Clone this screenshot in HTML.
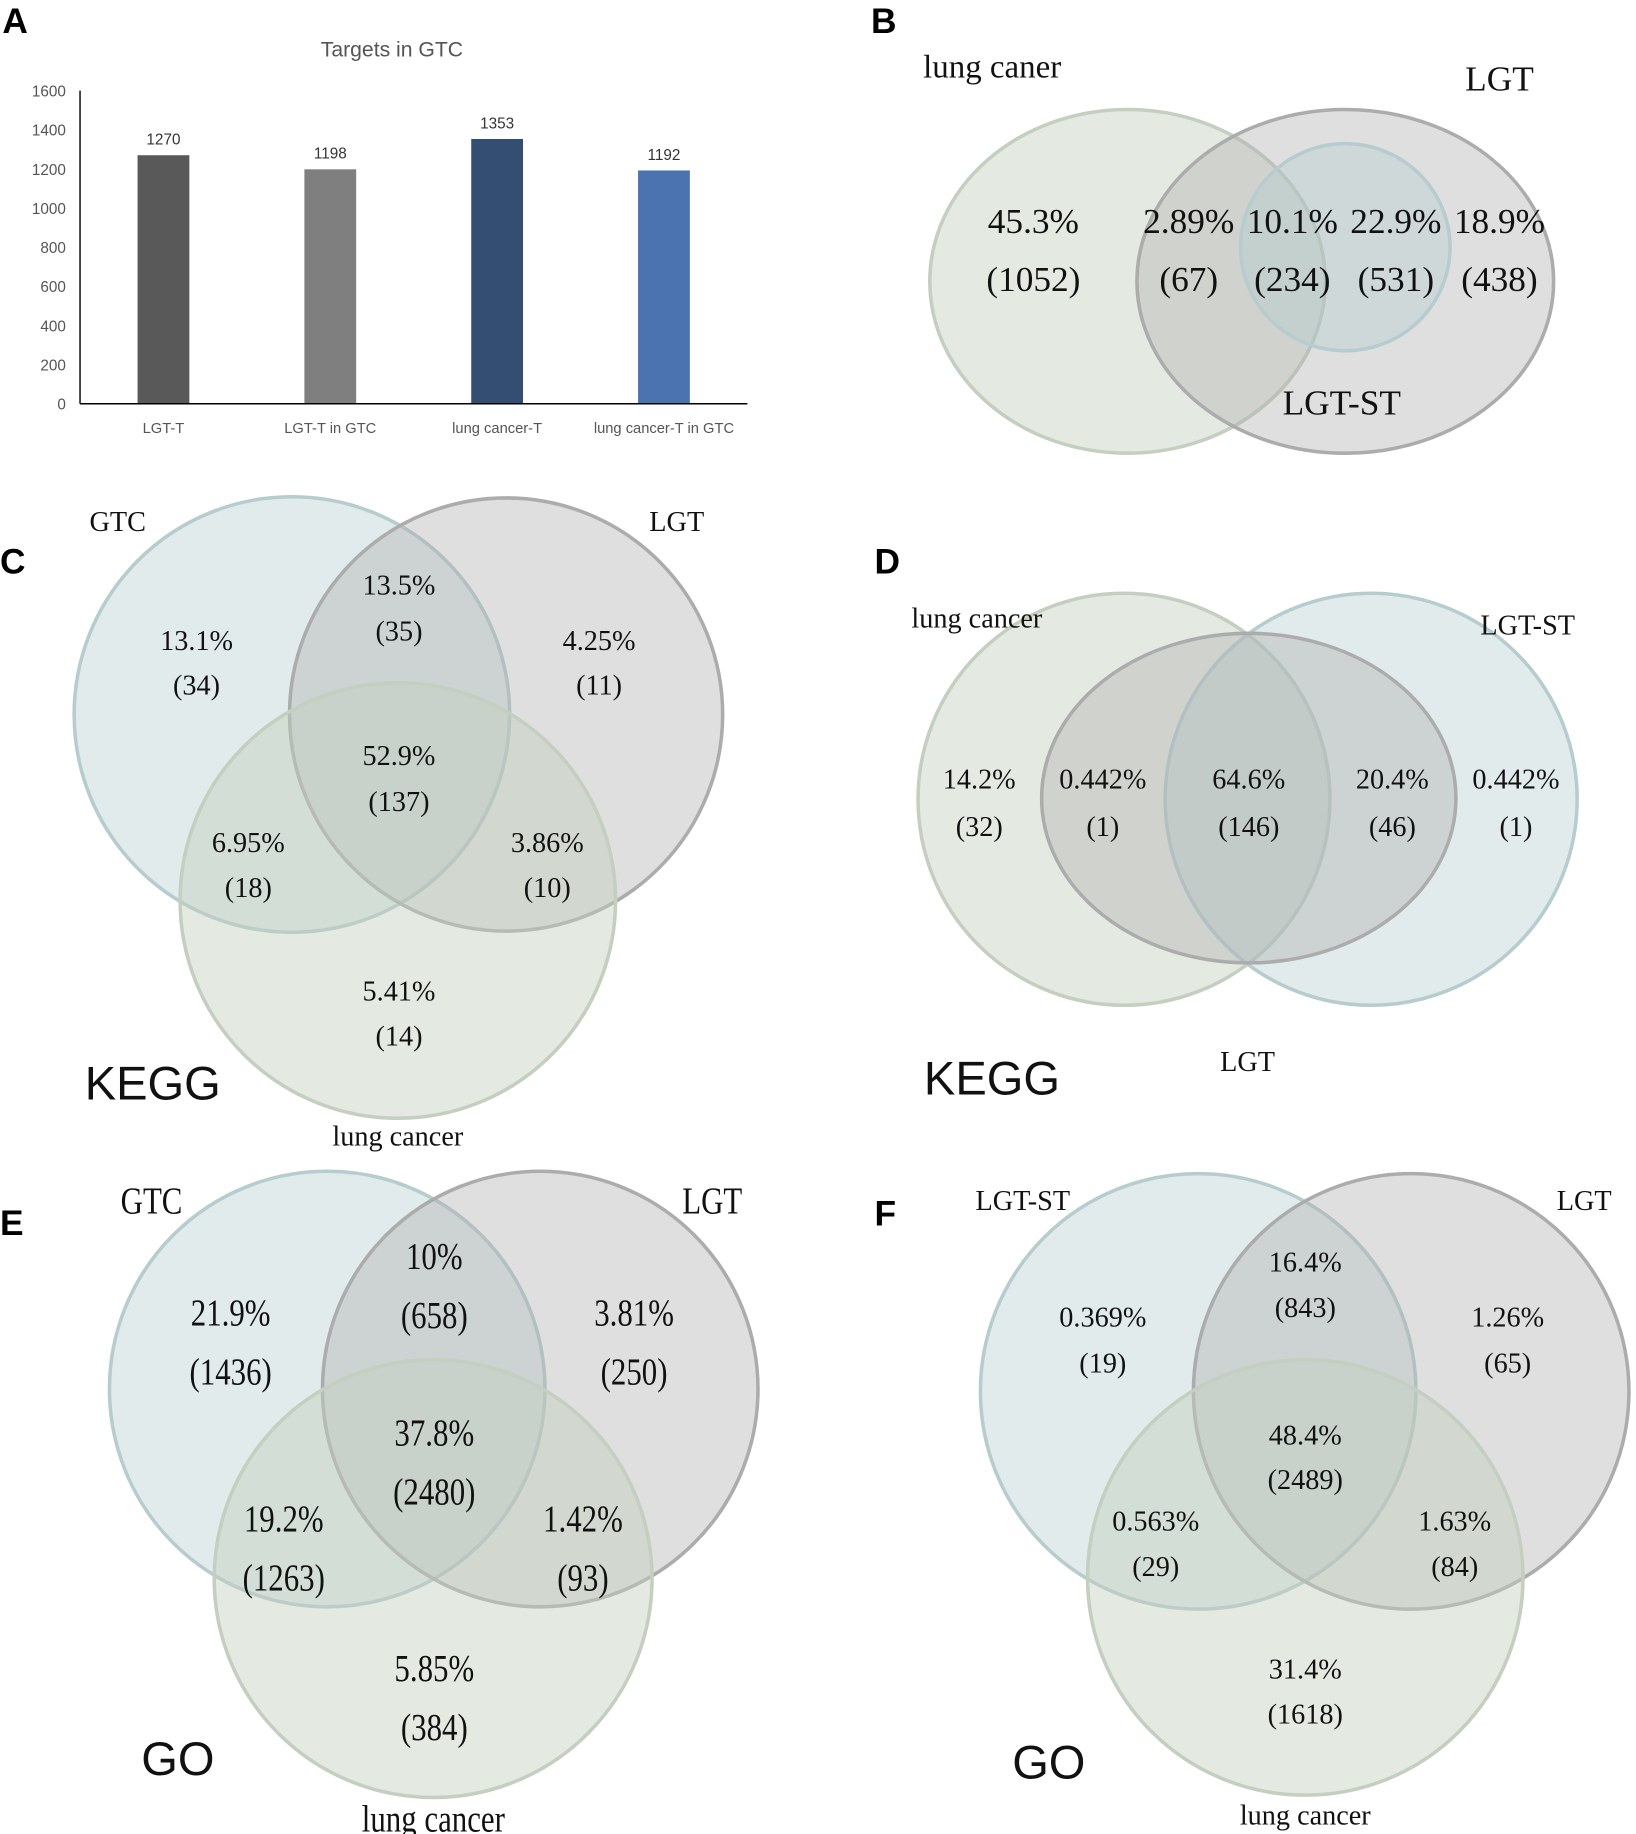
<!DOCTYPE html>
<html><head><meta charset="utf-8"><style>
html,body{margin:0;padding:0;background:#fff;}
svg{display:block;}
.ser{font-family:"Liberation Serif",serif;fill:#111;text-anchor:middle;}
.sans{font-family:"Liberation Sans",sans-serif;}
.letter{font-family:"Liberation Sans",sans-serif;font-weight:bold;font-size:30px;fill:#000;}
.g{fill:rgba(195,207,190,0.45);stroke:#c4cfc0;stroke-width:3;}
.k{fill:rgba(175,175,175,0.4);stroke:#acacac;stroke-width:3;}
.t{fill:rgba(180,205,208,0.4);stroke:#b6ccce;stroke-width:3;}
</style></head><body>
<svg id="fig" width="1636" height="1834" viewBox="0 0 1390 1558" preserveAspectRatio="none" xmlns="http://www.w3.org/2000/svg">
<!-- Panel A -->
<text class="letter" x="2" y="28">A</text>
<g id="chartA">
<text x="333" y="48" text-anchor="middle" class="sans" font-size="18" fill="#555">Targets in GTC</text>
</g>
<!-- Panel B -->
<g>
<text class="letter" x="740" y="28">B</text>
<ellipse class="g" cx="958" cy="239" rx="168" ry="146"/>
<ellipse class="k" cx="1143" cy="239" rx="177" ry="146"/>
<ellipse class="t" cx="1143" cy="210" rx="89" ry="88"/>
<g class="ser" font-size="30">
<text x="843" y="66" font-size="28">lung caner</text>
<text x="1274" y="77">LGT</text>
<text x="1140" y="352">LGT-ST</text>
<text x="878" y="198">45.3%</text><text x="878" y="247">(1052)</text>
<text x="1010" y="198">2.89%</text><text x="1010" y="247">(67)</text>
<text x="1098" y="198">10.1%</text><text x="1098" y="247">(234)</text>
<text x="1186" y="198">22.9%</text><text x="1186" y="247">(531)</text>
<text x="1274" y="198">18.9%</text><text x="1274" y="247">(438)</text>
</g></g>
<!-- Panel C -->
<g>
<text class="letter" x="0" y="487">C</text>
<circle class="t" cx="248" cy="607" r="185"/>
<circle class="k" cx="430" cy="607" r="184"/>
<circle class="g" cx="338" cy="765" r="185"/>
<g class="ser" font-size="24">
<text x="100" y="451">GTC</text><text x="575" y="451">LGT</text><text x="338" y="973">lung cancer</text>
<text x="167" y="552">13.1%</text><text x="167" y="590">(34)</text>
<text x="339" y="505">13.5%</text><text x="339" y="544">(35)</text>
<text x="509" y="552">4.25%</text><text x="509" y="590">(11)</text>
<text x="339" y="650">52.9%</text><text x="339" y="689">(137)</text>
<text x="211" y="724">6.95%</text><text x="211" y="762">(18)</text>
<text x="465" y="724">3.86%</text><text x="465" y="762">(10)</text>
<text x="339" y="850">5.41%</text><text x="339" y="888">(14)</text>
</g>
<text x="72" y="934" class="sans" font-size="40" fill="#111">KEGG</text>
</g>
<!-- Panel D -->
<g>
<text class="letter" x="743" y="487">D</text>
<circle class="g" cx="955" cy="679" r="175"/>
<circle class="t" cx="1165" cy="679" r="175"/>
<ellipse class="k" cx="1061" cy="678" rx="176" ry="140"/>
<g class="ser" font-size="24">
<text x="830" y="533">lung cancer</text><text x="1298" y="539">LGT-ST</text><text x="1060" y="910">LGT</text>
<text x="832" y="670">14.2%</text><text x="832" y="710">(32)</text>
<text x="937" y="670">0.442%</text><text x="937" y="710">(1)</text>
<text x="1061" y="670">64.6%</text><text x="1061" y="710">(146)</text>
<text x="1183" y="670">20.4%</text><text x="1183" y="710">(46)</text>
<text x="1288" y="670">0.442%</text><text x="1288" y="710">(1)</text>
</g>
<text x="785" y="930" class="sans" font-size="40" fill="#111">KEGG</text>
</g>
<!-- Panel E -->
<g>
<text class="letter" x="0" y="1049">E</text>
<circle class="t" cx="278" cy="1180" r="185"/>
<circle class="k" cx="459" cy="1180" r="185"/>
<circle class="g" cx="368" cy="1341" r="186"/>
<g class="ser" font-size="32" transform="scale(0.82,1)">
<text x="157" y="1031">GTC</text><text x="738" y="1031">LGT</text><text x="449" y="1556">lung cancer</text>
<text x="239" y="1126">21.9%</text><text x="239" y="1176">(1436)</text>
<text x="450" y="1078">10%</text><text x="450" y="1128">(658)</text>
<text x="657" y="1126">3.81%</text><text x="657" y="1176">(250)</text>
<text x="450" y="1228">37.8%</text><text x="450" y="1278">(2480)</text>
<text x="294" y="1301">19.2%</text><text x="294" y="1351">(1263)</text>
<text x="604" y="1301">1.42%</text><text x="604" y="1351">(93)</text>
<text x="450" y="1428">5.85%</text><text x="450" y="1478">(384)</text>
</g>
<text x="120" y="1508" class="sans" font-size="40" fill="#111">GO</text>
</g>
<!-- Panel F -->
<g>
<text class="letter" x="743" y="1041">F</text>
<circle class="t" cx="1018" cy="1182" r="185"/>
<circle class="k" cx="1199" cy="1182" r="185"/>
<circle class="g" cx="1109" cy="1340" r="185"/>
<g class="ser" font-size="24">
<text x="869" y="1028">LGT-ST</text><text x="1346" y="1028">LGT</text><text x="1109" y="1550">lung cancer</text>
<text x="937" y="1127">0.369%</text><text x="937" y="1166">(19)</text>
<text x="1109" y="1080">16.4%</text><text x="1109" y="1119">(843)</text>
<text x="1281" y="1127">1.26%</text><text x="1281" y="1166">(65)</text>
<text x="1109" y="1227">48.4%</text><text x="1109" y="1265">(2489)</text>
<text x="982" y="1300">0.563%</text><text x="982" y="1339">(29)</text>
<text x="1236" y="1300">1.63%</text><text x="1236" y="1339">(84)</text>
<text x="1109" y="1426">31.4%</text><text x="1109" y="1464">(1618)</text>
</g>
<text x="860" y="1511" class="sans" font-size="40" fill="#111">GO</text>
</g>
</svg>
<script>
const categories = ["LGT-T", "LGT-T in GTC", "lung cancer-T", "lung cancer-T  in GTC"];
const values = [1270, 1198, 1353, 1192];
const barColors = ["#595959", "#7f7f7f", "#344e73", "#4a73b0"];
const yTicks = [0, 200, 400, 600, 800, 1000, 1200, 1400, 1600];

const NS = "http://www.w3.org/2000/svg";
const g = document.getElementById("chartA");
const X0 = 68, X1 = 635, Y0 = 343, Y1 = 77, YMAX = 1600;
function yScale(v){ return Y0 - (v / YMAX) * (Y0 - Y1); }
function xScale(i){ const step = (X1 - X0) / categories.length; return X0 + step * (i + 0.5); }
function mk(tag, attrs){ const e = document.createElementNS(NS, tag); for (const k in attrs) e.setAttribute(k, attrs[k]); g.appendChild(e); return e; }

yTicks.forEach(t => {
  const tx = mk("text", {x: 56, y: yScale(t) + 5, "text-anchor": "end", "font-size": 13, fill: "#555", "font-family": "Liberation Sans, sans-serif"});
  tx.textContent = t;
  
  
});
const ya = mk("line", {x1: X0, y1: Y1, x2: X0, y2: Y0, stroke: "#000", "stroke-width": 1.2});


categories.forEach((c, i) => {
  const bw = 44, cx = xScale(i);
  const r = mk("rect", {x: cx - bw/2, y: yScale(values[i]), width: bw, height: Y0 - yScale(values[i]), fill: barColors[i]});
  
  
  const vl = mk("text", {x: cx, y: yScale(values[i]) - 9, "text-anchor": "middle", "font-size": 13, fill: "#333", "font-family": "Liberation Sans, sans-serif"});
  vl.textContent = values[i];
  
  
  const cl = mk("text", {x: cx, y: 368, "text-anchor": "middle", "font-size": 12.5, fill: "#555", "font-family": "Liberation Sans, sans-serif"});
  cl.textContent = c;
  
  
});
const xa = mk("line", {x1: X0, y1: Y0, x2: X1, y2: Y0, stroke: "#000", "stroke-width": 1.2});


</script>
</body></html>
